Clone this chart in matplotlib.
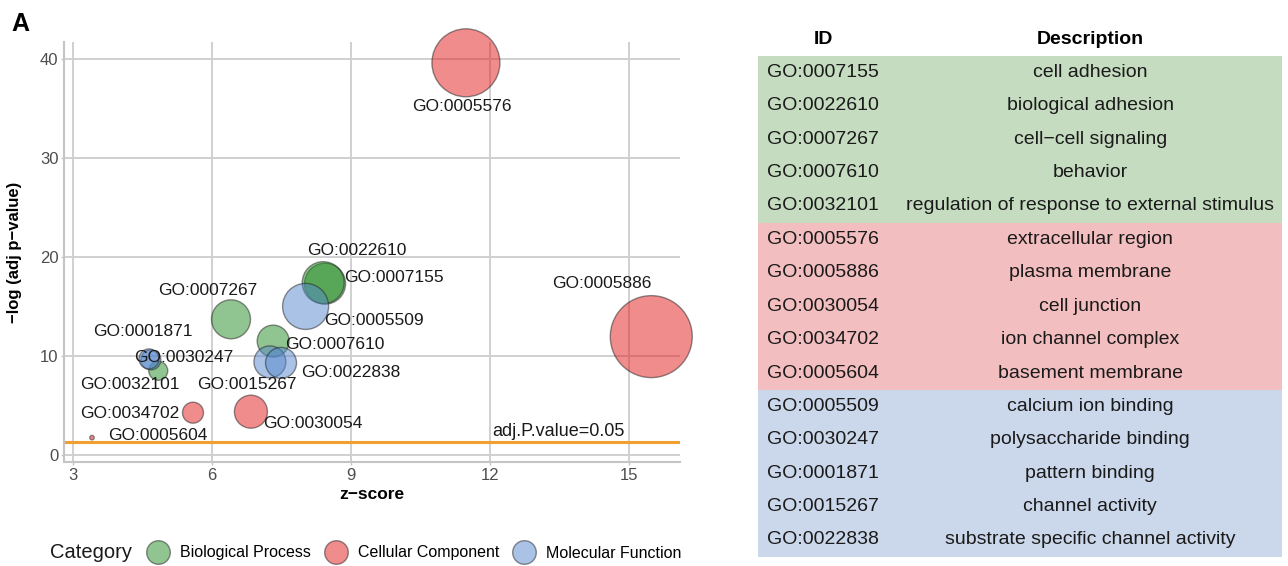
import math
import matplotlib
matplotlib.use('Agg')
import matplotlib.pyplot as plt
from matplotlib.lines import Line2D
from matplotlib.patches import Rectangle

plt.rcParams['font.family'] = ['Liberation Sans', 'DejaVu Sans']

# bubble data (GO enrichment)
go_ids = ['GO:0007155', 'GO:0022610', 'GO:0007267', 'GO:0007610', 'GO:0032101',
          'GO:0005576', 'GO:0005886', 'GO:0030054', 'GO:0034702', 'GO:0005604',
          'GO:0005509', 'GO:0030247', 'GO:0001871', 'GO:0015267', 'GO:0022838']
categories = ['Biological Process'] * 5 + ['Cellular Component'] * 5 + ['Molecular Function'] * 5
zscore = [8.44, 8.40, 6.41, 7.32, 4.84,
          11.48, 15.48, 6.84, 5.59, 3.41,
          8.02, 4.68, 4.64, 7.25, 7.49]
neg_log_p = [17.3, 17.4, 13.7, 11.5, 8.5,
             39.6, 11.95, 4.37, 4.27, 1.75,
             15.0, 9.6, 9.7, 9.4, 9.3]
counts = [168, 176, 152, 102, 36,
          462, 672, 109, 44, 2,
          212, 40, 40, 102, 96]
descriptions = ['cell adhesion', 'biological adhesion', 'cell\u2212cell signaling', 'behavior',
                'regulation of response to external stimulus',
                'extracellular region', 'plasma membrane', 'cell junction',
                'ion channel complex', 'basement membrane',
                'calcium ion binding', 'polysaccharide binding', 'pattern binding',
                'channel activity', 'substrate specific channel activity']
cutoff = 0.05

# layout only: where the repelled labels sit
label_pos = {
    'GO:0005576': (11.4, 35.2), 'GO:0022610': (9.13, 20.6), 'GO:0007155': (9.93, 17.9),
    'GO:0005886': (14.42, 17.3), 'GO:0007267': (5.91, 16.6), 'GO:0005509': (9.5, 13.6),
    'GO:0001871': (4.51, 12.45), 'GO:0007610': (8.66, 11.2), 'GO:0030247': (5.39, 9.87),
    'GO:0022838': (9.0, 8.35), 'GO:0032101': (4.23, 7.07), 'GO:0015267': (6.75, 7.07),
    'GO:0034702': (4.23, 4.2), 'GO:0030054': (8.18, 3.2), 'GO:0005604': (4.83, 2.0),
}

bubble_col = {'Biological Process': '#228B22', 'Cellular Component': '#E41A1C',
              'Molecular Function': '#5587CD'}
table_col = {'Biological Process': '#c5dcc0', 'Cellular Component': '#f3bec0',
             'Molecular Function': '#cbd7ea'}

W, H = 1288, 566
fig = plt.figure(figsize=(W / 100, H / 100), dpi=100)

ax = fig.add_axes([64 / W, 1 - 462 / H, (680 - 64) / W, (462 - 42) / H])
ax.set_xlim(2.806, 16.1)
ax.set_ylim(-0.71, 41.7)
ax.set_xticks([3, 6, 9, 12, 15])
ax.set_yticks([0, 10, 20, 30, 40])
ax.grid(color='#d0d0d0', lw=1.4)
ax.set_axisbelow(True)
for s in ['top', 'right']:
    ax.spines[s].set_visible(False)
for s in ['left', 'bottom']:
    ax.spines[s].set_color('#c4c4c4')
    ax.spines[s].set_linewidth(1.5)
ax.tick_params(length=2.5, width=1, color='#c4c4c4', labelsize=12, labelcolor='#4d4d4d', pad=1.5)

for cat in bubble_col:
    idx = [i for i, c in enumerate(categories) if c == cat]
    ax.scatter([zscore[i] for i in idx], [neg_log_p[i] for i in idx],
               s=[counts[i] * 5.184 for i in idx], color=bubble_col[cat], alpha=0.5,
               edgecolors='#222222', linewidths=1.0, zorder=3, clip_on=False)

for g, (lx, ly) in label_pos.items():
    ax.text(lx, ly, g, ha='center', va='center', fontsize=12.5, color='#1a1a1a', zorder=4)

ax.axhline(-math.log10(cutoff), color='#F0A030', lw=2.2, zorder=2)
ax.text(13.47, 2.4, 'adj.P.value=%s' % cutoff, ha='center', va='center', fontsize=13, color='#1a1a1a')

ax.set_xlabel('z\u2212score', fontsize=12.5, fontweight='bold', labelpad=3)
ax.set_ylabel('\u2212log (adj p\u2212value)', fontsize=12, fontweight='bold')
ax.yaxis.set_label_coords(-0.068, 0.5)

fig.text(11 / W, 1 - 24 / H, 'A', fontsize=18, fontweight='bold', va='center', ha='left')

# legend
fig.text(50 / W, 1 - 553 / H, 'Category', fontsize=14.5, va='center', ha='left', color='#1a1a1a')
handles = [Line2D([], [], ls='', marker='o', markersize=17, markerfacecolor=bubble_col[c],
                  markeredgecolor='#222222', alpha=0.5, markeredgewidth=1.0) for c in bubble_col]
fig.legend(handles, list(bubble_col), loc='center left', bbox_to_anchor=(146 / W, 1 - 553 / H),
           ncol=3, frameon=False, fontsize=11.5, handlelength=1.5, handletextpad=0.6,
           columnspacing=0.85, borderpad=0, borderaxespad=0)

# table
tab = fig.add_axes([758 / W, 0, (1282 - 758) / W, 1])
row_h = 33.4
tab.set_xlim(0, 1)
tab.set_ylim((H - 55.7) / row_h, -55.7 / row_h)
tab.axis('off')
start = 0
for i in range(1, len(categories) + 1):
    if i == len(categories) or categories[i] != categories[start]:
        tab.add_patch(Rectangle((0, start), 1, i - start, color=table_col[categories[start]], lw=0))
        start = i
for i, (g, d) in enumerate(zip(go_ids, descriptions)):
    tab.text(0.124, i + 0.5, g, ha='center', va='center', fontsize=14, color='#1a1a1a')
    tab.text(0.634, i + 0.5, d, ha='center', va='center', fontsize=14, color='#1a1a1a')
hy = (40 - 55.7) / row_h
tab.text(0.124, hy, 'ID', ha='center', va='center', fontsize=14, fontweight='bold')
tab.text(0.634, hy, 'Description', ha='center', va='center', fontsize=14, fontweight='bold')

fig.savefig('out.png', dpi=100, facecolor='white')
